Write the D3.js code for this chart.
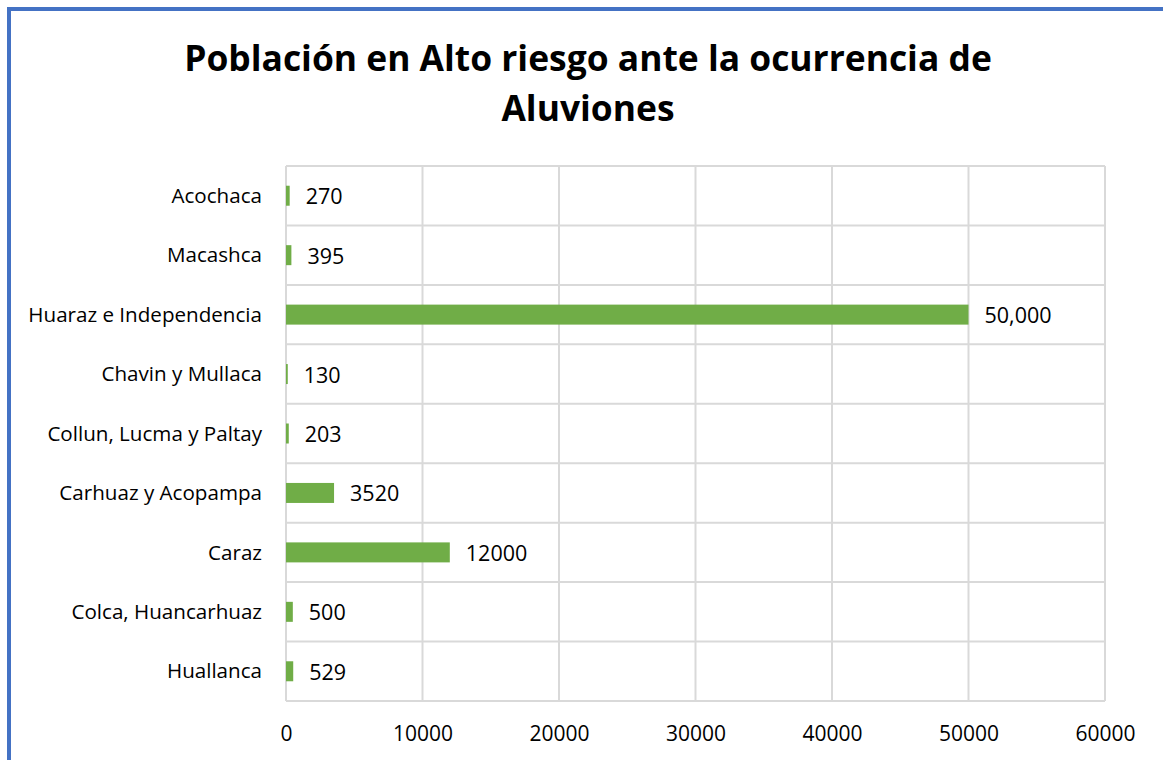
<!DOCTYPE html>
<html>
<head>
  <meta charset="utf-8" />
  <title>Población en Alto riesgo</title>
  <style>
    body { margin: 0; background: #fff; }
    svg { display: block; font-family: "Open Sans", "Noto Sans", sans-serif; }
  </style>
</head>
<body>
  <svg id="svg" width="1163" height="760"></svg>
  <script src="https://cdnjs.cloudflare.com/ajax/libs/d3/7.8.5/d3.min.js"></script>
  <script>
    const categories = ['Acochaca', 'Macashca', 'Huaraz e Independencia', 'Chavin y Mullaca',
      'Collun, Lucma y Paltay', 'Carhuaz y Acopampa', 'Caraz', 'Colca, Huancarhuaz', 'Huallanca']
    const values = [270, 395, 50000, 130, 203, 3520, 12000, 500, 529]
    const valueLabels = ['270', '395', '50,000', '130', '203', '3520', '12000', '500', '529']
    const xTicks = [0, 10000, 20000, 30000, 40000, 50000, 60000]
    const titleLines = ['Población en Alto riesgo ante la ocurrencia de', 'Aluviones']

    const svg = d3.select('#svg')
    const plot = { left: 286, right: 1105, top: 166, bottom: 701 }
    const gridColor = '#d9d9d9'

    // frame (only top and left edges visible)
    svg.append('line').attr('x1', 9).attr('x2', 1163).attr('y1', 9).attr('y2', 9)
      .attr('stroke', '#4472c4').attr('stroke-width', 4)
    svg.append('line').attr('x1', 9).attr('x2', 9).attr('y1', 7).attr('y2', 760)
      .attr('stroke', '#4472c4').attr('stroke-width', 4)

    // title
    svg.append('g').selectAll('text').data(titleLines).join('text')
      .attr('x', 588).attr('y', (d, i) => 71 + i * 50)
      .attr('text-anchor', 'middle')
      .attr('font-size', 35.4).attr('font-weight', 'bold').attr('fill', '#000')
      .text(d => d)

    const x = d3.scaleLinear().domain([0, 60000]).range([plot.left, plot.right])
    const y = d3.scaleBand().domain(categories).range([plot.top, plot.bottom])

    // vertical grid
    svg.append('g').selectAll('line').data(xTicks).join('line')
      .attr('x1', d => x(d)).attr('x2', d => x(d))
      .attr('y1', plot.top).attr('y2', plot.bottom)
      .attr('stroke', gridColor).attr('stroke-width', 2)

    // horizontal grid (band boundaries)
    const bounds = categories.map(c => y(c)).concat([plot.bottom])
    svg.append('g').selectAll('line').data(bounds).join('line')
      .attr('x1', plot.left).attr('x2', plot.right)
      .attr('y1', d => d).attr('y2', d => d)
      .attr('stroke', gridColor).attr('stroke-width', 2)

    // bars
    const barH = 20
    svg.append('g').selectAll('rect').data(values).join('rect')
      .attr('x', x(0))
      .attr('y', (d, i) => y(categories[i]) + y.bandwidth() / 2 - barH / 2)
      .attr('width', d => x(d) - x(0))
      .attr('height', barH)
      .attr('fill', '#70ad47')

    // value labels
    svg.append('g').selectAll('text').data(values).join('text')
      .attr('x', d => x(d) + 16)
      .attr('y', (d, i) => y(categories[i]) + y.bandwidth() / 2 + 1)
      .attr('dy', '0.35em')
      .attr('font-size', 21.5).attr('fill', '#000')
      .text((d, i) => valueLabels[i])

    // category axis labels
    svg.append('g').selectAll('text').data(categories).join('text')
      .attr('x', 262)
      .attr('y', d => y(d) + y.bandwidth() / 2)
      .attr('dy', '0.35em')
      .attr('text-anchor', 'end')
      .attr('font-size', 20.6).attr('fill', '#000')
      .text(d => d)

    // x axis tick labels
    const xAxis = d3.axisBottom(x).tickValues(xTicks).tickSize(0).tickPadding(0).tickFormat(d3.format('d'))
    const gx = svg.append('g').attr('transform', `translate(0,${plot.bottom + 25})`).call(xAxis)
    gx.select('.domain').remove()
    gx.selectAll('text').attr('font-size', 21).attr('fill', '#000')
      .attr('font-family', '"Open Sans", "Noto Sans", sans-serif')
  </script>
</body>
</html>
